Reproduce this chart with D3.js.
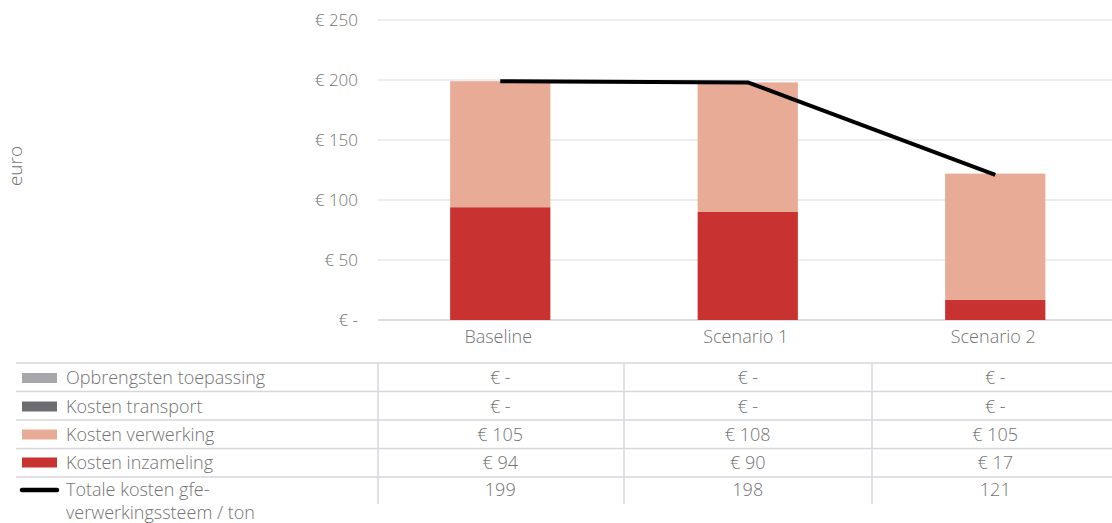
<!DOCTYPE html>
<html>
<head>
<meta charset="utf-8">
<script src="https://cdn.jsdelivr.net/npm/d3@7"></script>
<style>
  html, body { margin: 0; padding: 0; background: #fff; }
  svg text { font-family: "Open Sans", sans-serif; font-weight: 300; fill: #737373; }
</style>
</head>
<body>
<svg id="chart" width="1112" height="523"></svg>
<script>
// Scenario categories
const categories = ["Baseline", "Scenario 1", "Scenario 2"];

// Cost components per ton (euro)
const opbrengstenToepassing = [0, 0, 0];
const kostenTransport = [0, 0, 0];
const kostenVerwerking = [105, 108, 105];
const kostenInzameling = [94, 90, 17];
const totaleKosten = [199, 198, 121];

const yTicks = [0, 50, 100, 150, 200, 250];

const series = [
  { name: "Opbrengsten toepassing", values: opbrengstenToepassing, color: "#a7a6aa", type: "bar" },
  { name: "Kosten transport", values: kostenTransport, color: "#6d6c71", type: "bar" },
  { name: "Kosten verwerking", values: kostenVerwerking, color: "#e8ab96", type: "bar" },
  { name: "Kosten inzameling", values: kostenInzameling, color: "#c83331", type: "bar" },
  { name: "Totale kosten gfe-\nverwerkingssteem / ton", values: totaleKosten, color: "#000000", type: "line" }
];

const svg = d3.select("#chart");
const plotLeft = 378;
const x = d3.scaleBand().domain(categories).range([376.5, 376.5 + 247.5 * 3])
  .paddingInner(0.595).paddingOuter(0.2975);
const y = d3.scaleLinear().domain([0, 250]).range([320, 20]);

const euro = v => v === 0 ? "€ -" : "€ " + v;

// Gridlines
svg.append("g").selectAll("line").data(yTicks).join("line")
  .attr("x1", plotLeft).attr("x2", 1112)
  .attr("y1", d => y(d)).attr("y2", d => y(d))
  .attr("stroke", d => d === 0 ? "#cfcfd6" : "#dcdce2").attr("stroke-width", d => d === 0 ? 1.5 : 1.2);

// Y tick labels
svg.append("g").selectAll("text").data(yTicks).join("text")
  .attr("x", 358).attr("y", d => y(d)).attr("dy", "0.35em")
  .attr("text-anchor", "end").attr("font-size", 17)
  .text(d => euro(d));

// Y axis title
svg.append("text")
  .attr("transform", "translate(22,166) rotate(-90)")
  .attr("text-anchor", "middle").attr("font-size", 19)
  .text("euro");

// Stacked bars (bottom to top: inzameling, verwerking, transport, opbrengsten)
const stackOrder = [3, 2, 1, 0];
categories.forEach((cat, i) => {
  let base = 0;
  stackOrder.forEach(si => {
    const s = series[si];
    const v = s.values[i];
    if (v > 0) {
      svg.append("rect")
        .attr("x", x(cat)).attr("width", x.bandwidth())
        .attr("y", y(base + v)).attr("height", y(base) - y(base + v))
        .attr("fill", s.color);
    }
    base += v;
  });
});

// Total line
const line = d3.line().x((d, i) => x(categories[i]) + x.bandwidth() / 2).y(d => y(d));
svg.append("path").datum(totaleKosten)
  .attr("d", line).attr("fill", "none")
  .attr("stroke", "#000").attr("stroke-width", 4).attr("stroke-linejoin", "round");

// Category labels
svg.append("g").selectAll("text").data(categories).join("text")
  .attr("x", d => x(d) + x.bandwidth() / 2 - 2).attr("y", 337).attr("dy", "0.35em")
  .attr("text-anchor", "middle").attr("font-size", 18)
  .text(d => d);

// Data table
const rowLines = [363, 391.5, 420, 448.5, 477];
const rowCenters = [378, 406.5, 434.5, 462.5, 490];
const colEdges = [plotLeft, plotLeft + 246, plotLeft + 494];

svg.append("g").selectAll("line").data(rowLines).join("line")
  .attr("x1", 16).attr("x2", 1112)
  .attr("y1", d => d).attr("y2", d => d)
  .attr("stroke", "#d6d6dc").attr("stroke-width", 1.5);

svg.append("g").selectAll("line").data(colEdges).join("line")
  .attr("x1", d => d).attr("x2", d => d)
  .attr("y1", 363).attr("y2", 504)
  .attr("stroke", "#d6d6dc").attr("stroke-width", 1.5);

series.forEach((s, r) => {
  const cy = rowCenters[r];
  if (s.type === "bar") {
    svg.append("rect").attr("x", 22).attr("y", cy - 5).attr("width", 35).attr("height", 10).attr("fill", s.color);
  } else {
    svg.append("line").attr("x1", 22).attr("x2", 57).attr("y1", cy).attr("y2", cy)
      .attr("stroke", s.color).attr("stroke-width", 4.5).attr("stroke-linecap", "round");
  }
  const t = svg.append("text").attr("x", 66).attr("y", cy).attr("font-size", 18);
  s.name.split("\n").forEach((ln, k) => {
    t.append("tspan").attr("x", 66).attr("dy", k === 0 ? "0.35em" : "1.25em").text(ln);
  });
  categories.forEach((cat, i) => {
    svg.append("text")
      .attr("x", x(cat) + x.bandwidth() / 2).attr("y", cy).attr("dy", "0.35em")
      .attr("text-anchor", "middle").attr("font-size", 18)
      .text(s.type === "bar" ? euro(s.values[i]) : s.values[i]);
  });
});
</script>
</body>
</html>
